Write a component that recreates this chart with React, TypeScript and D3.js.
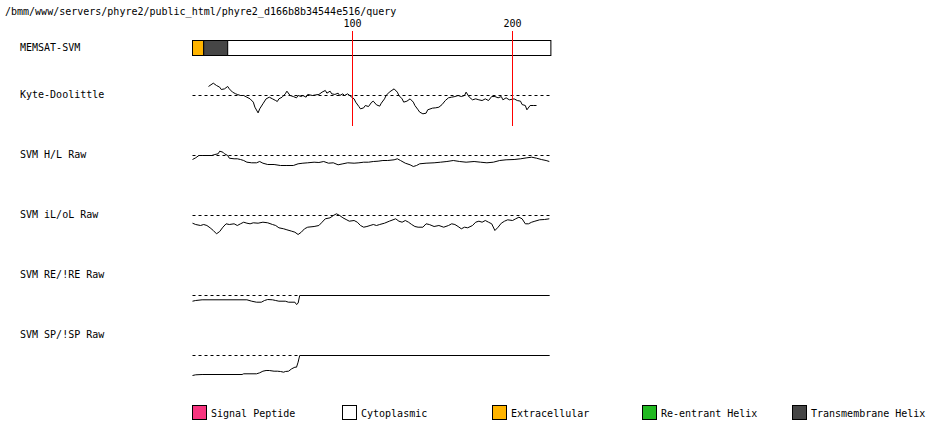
import React from "react";
import * as d3 from "d3";

const headerText = "/bmm/www/servers/phyre2/public_html/phyre2_d166b8b34544e516/query";
const seqLength = 224;
const tickResidues = [100, 200];

const trackLabels = ["MEMSAT-SVM", "Kyte-Doolittle", "SVM H/L Raw", "SVM iL/oL Raw", "SVM RE/!RE Raw", "SVM SP/!SP Raw"];

// MEMSAT-SVM topology segments
const segStart = [0, 7, 22];
const segEnd = [7, 22, 224];
const segType = ["Extracellular", "Transmembrane Helix", "Cytoplasmic"];

const legendNames = ["Signal Peptide", "Cytoplasmic", "Extracellular", "Re-entrant Helix", "Transmembrane Helix"];
const legendColors = ["#f7357f", "#ffffff", "#ffb400", "#22b922", "#464646"];

// Kyte-Doolittle
const kdRes = [10,13,15,17,18,20,22,23,25,27,28,30,32,34,36,38,39,41,42,44,46,48,50,52,53,54,56,58,59,61,63,65,66,68,69,71,72,75,77,79,81,83,84,86,87,89,91,92,94,95,97,99,101,102,104,105,107,108,110,112,113,115,117,118,120,121,123,126,128,129,131,132,134,136,138,139,141,142,144,146,147,150,152,154,156,158,160,162,164,166,168,170,171,173,175,177,179,181,183,185,187,189,191,193,194,196,198,201,203,205,206,208,209,211,213,215];
const kdVal = [1.13,1.54,1.25,1.04,0.75,0.83,1.13,0.83,0.42,0.21,0.13,0,0,-0.21,-0.42,-0.83,-1.46,-2.17,-1.67,-1.04,-0.42,-0.21,-0.42,-0.63,-0.75,-0.42,-0.21,0.21,0.54,0,-0.13,-0.29,0,-0.13,0,-0.21,0.13,0,0.08,0.13,0.42,0.63,0.29,0.54,0.21,0.13,0.29,0,0.21,0,0.21,-0.13,-0.42,-0.83,-1.38,-1.67,-1.54,-1.25,-1.38,-0.83,-0.71,-1.17,-1.33,-0.96,-0.42,0,0.42,0.83,0.42,0,-0.42,-0.83,-0.71,-0.42,-0.83,-1.25,-1.79,-2.08,-2.29,-2.21,-1.79,-1.58,-1.54,-1.46,-1.13,-0.63,-0.29,-0.21,-0.13,0,-0.13,0,0.42,-0.21,-0.54,-0.42,-0.54,-0.63,-0.42,-0.63,-0.13,-0.13,-0.29,-0.13,-0.54,-0.29,-0.54,-0.42,-0.63,-0.71,-1.13,-1.25,-1.79,-1.25,-1.25,-1.25];

// SVM H/L raw
const hlRes = [0,2,4,6,9,12,14,16,17,19,20,22,23,26,28,30,32,34,37,40,42,44,47,51,55,59,63,66,69,72,76,79,82,85,88,91,94,97,101,104,107,110,113,116,119,122,126,128,130,133,136,138,140,142,146,151,155,159,163,167,171,176,180,184,188,192,196,201,205,209,212,215,218,221,223];
const hlVal = [-0.4,-0.23,0,0,0,0,0.1,0.17,0.43,0.33,0.17,0,-0.27,-0.33,-0.33,-0.4,-0.5,-0.67,-0.73,-0.73,-0.6,-0.77,-0.9,-0.9,-1.0,-1.0,-1.0,-0.83,-0.77,-0.73,-0.67,-0.7,-0.6,-0.77,-0.73,-0.93,-0.83,-0.73,-0.77,-0.73,-0.67,-0.67,-0.6,-0.57,-0.5,-0.5,-0.43,-0.33,-0.5,-0.77,-0.93,-1.1,-1.0,-0.83,-0.77,-0.73,-0.67,-0.6,-0.5,-0.6,-0.67,-0.6,-0.67,-0.73,-0.67,-0.5,-0.43,-0.4,-0.33,-0.23,-0.17,-0.27,-0.4,-0.5,-0.6];

// SVM iL/oL raw
const ilRes = [0,2,5,7,9,11,13,15,17,19,21,23,26,28,30,32,34,36,38,41,44,47,50,52,54,57,59,62,64,66,68,70,72,76,79,81,83,86,88,90,92,94,96,98,101,103,105,107,109,111,113,115,117,120,123,127,129,131,133,135,137,139,141,144,146,148,151,154,157,160,162,164,166,168,170,172,175,177,179,181,183,185,187,189,191,193,195,197,200,202,204,206,208,210,212,214,217,220,223];
const ilVal = [-0.77,-0.9,-1.0,-0.9,-1.0,-1.23,-1.5,-1.83,-1.6,-1.17,-0.83,-0.9,-0.83,-1.0,-0.83,-0.67,-0.77,-0.83,-0.73,-0.77,-0.67,-0.73,-0.9,-1.0,-1.23,-1.33,-1.43,-1.57,-1.67,-1.9,-1.67,-1.33,-1.17,-1.1,-1.0,-0.67,-0.33,-0.23,0,0.17,0,-0.23,-0.4,-0.57,-0.5,-0.67,-1.0,-1.17,-1.1,-1.0,-0.9,-1.0,-0.9,-0.77,-0.57,-0.33,-0.57,-0.67,-0.5,-0.67,-0.9,-1.1,-1.17,-1.17,-0.83,-0.9,-1.1,-1.0,-1.17,-1.0,-0.83,-0.9,-1.1,-1.33,-1.17,-1.23,-1.0,-0.67,-0.57,-0.67,-0.5,-0.67,-0.83,-1.5,-1.17,-0.77,-0.57,-0.43,-0.5,-0.33,-0.17,-0.33,-0.83,-0.83,-0.67,-0.57,-0.43,-0.4,-0.33];

// SVM RE/!RE raw
const reRes = [0,2,6,34,37,40,43,45,47,50,52,54,58,60,64,65,66,67,223];
const reVal = [-0.57,-0.5,-0.43,-0.43,-0.57,-0.67,-0.67,-0.5,-0.4,-0.43,-0.5,-0.57,-0.57,-0.67,-0.67,-0.9,-0.77,0,0];

// SVM SP/!SP raw
const spRes = [0,2,6,31,32,40,42,44,46,48,51,53,55,57,58,60,62,64,65,66,67,223];
const spVal = [-2.0,-1.93,-1.9,-1.9,-1.83,-1.83,-1.73,-1.57,-1.5,-1.5,-1.57,-1.57,-1.6,-1.67,-1.6,-1.57,-1.33,-1.17,-1.17,-0.67,0,0];

const FONT = "'DejaVu Sans Mono', monospace";

export default function App() {
  const W = 950, H = 435;
  const x = d3.scaleLinear().domain([0, seqLength]).range([192.5, 550.9]);
  const colorOf = (name: string) => legendColors[legendNames.indexOf(name)];

  const labelY = [51, 98, 158, 218, 278, 338];
  const tracks = [
    { res: kdRes, val: kdVal, y: d3.scaleLinear().domain([-4.5, 4.5]).range([95.5 + 36, 95.5 - 36]) },
    { res: hlRes, val: hlVal, y: d3.scaleLinear().domain([-3, 3]).range([155.5 + 30, 155.5 - 30]) },
    { res: ilRes, val: ilVal, y: d3.scaleLinear().domain([-3, 3]).range([215.5 + 30, 215.5 - 30]) },
    { res: reRes, val: reVal, y: d3.scaleLinear().domain([-3, 3]).range([295.5 + 30, 295.5 - 30]) },
    { res: spRes, val: spVal, y: d3.scaleLinear().domain([-3, 3]).range([355.5 + 30, 355.5 - 30]) },
  ];

  return (
    <svg width={W} height={H} style={{ position: "absolute", left: 0, top: 0, background: "#fff" }}
      fontFamily={FONT} fontSize={10}>
      <rect x={0} y={0} width={W} height={H} fill="#fff" />
      <text x={5} y={15} fill="#000">{headerText}</text>

      {trackLabels.map((t, i) => (
        <text key={t} x={20} y={labelY[i]} fill="#000">{t}</text>
      ))}

      {/* MEMSAT bar */}
      <rect x={x(0)} y={40.5} width={x(seqLength) - x(0) - 0.4} height={15} fill="#fff" stroke="#000" />
      {segStart.map((s, i) => (
        <rect key={i} x={x(s)} y={40.5} width={x(segEnd[i]) - x(s)} height={15}
          fill={colorOf(segType[i])} stroke="#000" />
      ))}

      {/* dashed baselines and lines */}
      {tracks.map((tr, i) => {
        const y0 = tr.y(0);
        const pts: [number, number][] = tr.res.map((r, j) => [r, tr.val[j]]);
        const line = d3.line<[number, number]>().x(d => x(d[0])).y(d => tr.y(d[1]));
        return (
          <g key={i}>
            <line x1={x(0)} x2={x(seqLength)} y1={y0} y2={y0} stroke="#000" strokeDasharray="3,3" />
            <path d={line(pts) || ""} fill="none" stroke="#000" strokeWidth={1} />
          </g>
        );
      })}

      {/* residue ticks */}
      {tickResidues.map(t => (
        <g key={t}>
          <line x1={x(t)} x2={x(t)} y1={31} y2={126} stroke="#ff0000" />
          <text x={x(t)} y={27} textAnchor="middle" fill="#000">{t}</text>
        </g>
      ))}

      {/* legend */}
      {legendNames.map((n, i) => (
        <g key={n}>
          <rect x={192.5 + i * 150} y={405.5} width={14} height={14} fill={legendColors[i]} stroke="#000" />
          <text x={211 + i * 150} y={417} fill="#000">{n}</text>
        </g>
      ))}
    </svg>
  );
}
